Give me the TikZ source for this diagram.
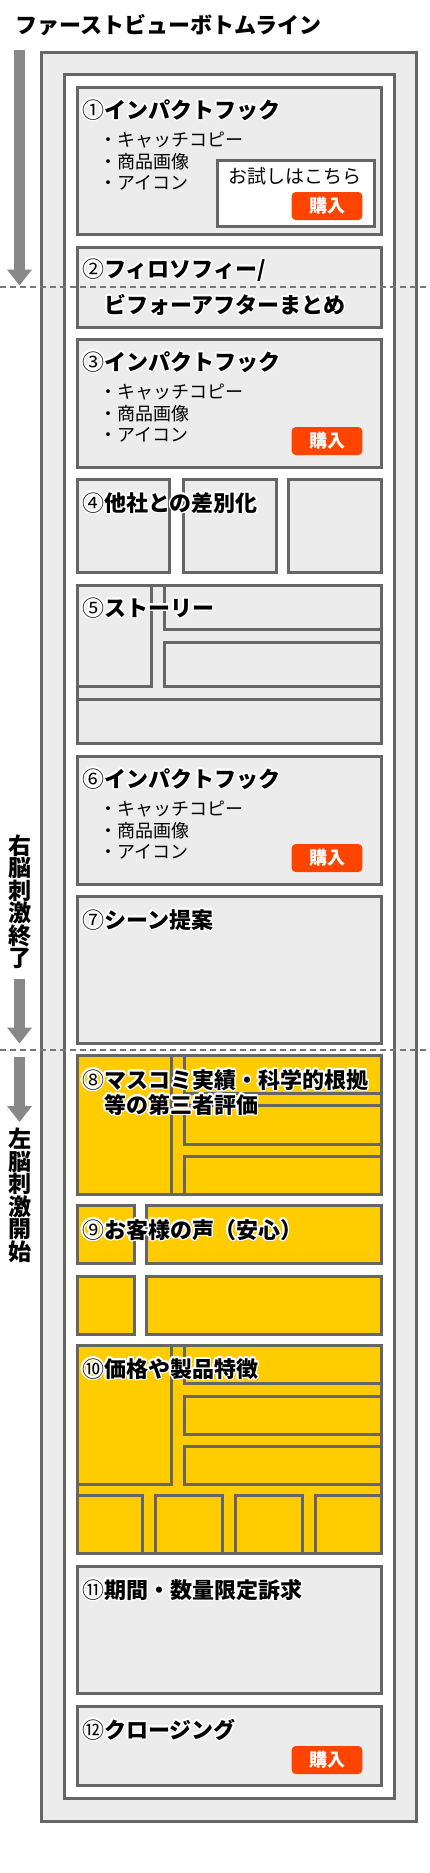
\documentclass[tikz,border=0pt]{standalone}
\usepackage{fontspec}
\setmainfont{Noto Sans CJK JP}
\newfontfamily\jpblack{Noto Sans CJK JP Black}
\usepackage{contour}
\contourlength{1.4pt}
\contournumber{20}
\usetikzlibrary{arrows.meta}
\definecolor{ln}{HTML}{666666}
\definecolor{gf}{HTML}{ECECEC}
\definecolor{yl}{HTML}{FFCC00}
\definecolor{btn}{HTML}{FF4400}
\definecolor{arr}{HTML}{888888}
\definecolor{dl}{HTML}{777777}
\tikzset{
  panel/.style={draw=ln, line width=3pt, fill=gf},
  ypanel/.style={draw=ln, line width=3pt, fill=yl},
  wpanel/.style={draw=ln, line width=3pt, fill=white},
  sub/.style={draw=ln, line width=3pt},
  head/.style={anchor=base west, inner sep=0pt, font=\fontsize{22}{26}\selectfont\jpblack},
  bul/.style={anchor=base west, inner sep=0pt, font=\fontsize{18}{21}\selectfont},
  buy/.style={fill=btn, rounded corners=4pt, text=white, inner sep=0pt,
    minimum width=70.6pt, minimum height=28pt, font=\fontsize{18}{20}\selectfont\bfseries},
  vtext/.style={inner sep=0pt, align=center, font=\fontsize{23}{22.5}\selectfont\jpblack},
  bigarrow/.style={draw=arr, line width=11pt, -{Triangle[width=24pt,length=16pt]}},
  dashline/.style={draw=dl, line width=2pt, dash pattern=on 6pt off 4pt},
}
\newcommand\hd[2]{\contour{white}{{\normalfont\fontsize{22}{26}\selectfont #1}#2}}
\begin{document}
\begin{tikzpicture}[x=1pt,y=-1pt]
\useasboundingbox (0,0) rectangle (430,1873);
% title
\node[head] (title) at (15,34) {ファーストビューボトムライン};
% frames
\draw[panel] (41.5,52.5) rectangle (416.7,1821);
\draw[wpanel] (64.3,75) rectangle (394.3,1798.3);
% 1
\draw[panel] (77,88) rectangle (381,234);
\draw[wpanel] (217,160) rectangle (374,226);
% 2
\draw[panel] (77,247.3) rectangle (381,327.3);
% 3
\draw[panel] (77,339.7) rectangle (381,467.3);
% 4
\draw[panel] (77,479.5) rectangle (169.7,572);
\draw[panel] (183,479.5) rectangle (276,572);
\draw[panel] (288.3,479.5) rectangle (381,572);
% 5
\draw[panel] (77,585.7) rectangle (381,743.3);
\draw[sub] (77,585.7) rectangle (151.7,686.7);
\draw[sub] (164,585.7) rectangle (381,629.3);
\draw[sub] (164,642.7) rectangle (381,686.7);
\draw[sub] (77,699) rectangle (381,743.3);
% 6
\draw[panel] (77,756.7) rectangle (381,884);
% 7
\draw[panel] (77,896) rectangle (381,1043.3);
% 8
\draw[ypanel] (77,1055.7) rectangle (381,1194);
\draw[sub] (77,1055.7) rectangle (171.7,1194);
\draw[sub] (184,1055.7) rectangle (381,1093.3);
\draw[sub] (184,1105.7) rectangle (381,1144);
\draw[sub] (184,1156.7) rectangle (381,1194);
% 9
\draw[ypanel] (77,1205.7) rectangle (134,1263.3);
\draw[ypanel] (146,1205.7) rectangle (381,1263.3);
\draw[ypanel] (77,1276) rectangle (134,1334);
\draw[ypanel] (146,1276) rectangle (381,1334);
% 10
\draw[ypanel] (77,1345.7) rectangle (381,1553.3);
\draw[sub] (77,1345.7) rectangle (171.7,1484);
\draw[sub] (184,1345.7) rectangle (381,1383.3);
\draw[sub] (184,1396) rectangle (381,1434);
\draw[sub] (184,1446) rectangle (381,1484);
\draw[sub] (77,1495.7) rectangle (142.7,1553.3);
\draw[sub] (155.3,1495.7) rectangle (222.7,1553.3);
\draw[sub] (235.3,1495.7) rectangle (302.7,1553.3);
\draw[sub] (315,1495.7) rectangle (381,1553.3);
% 11
\draw[panel] (77,1566) rectangle (381,1693.3);
% 12
\draw[panel] (77,1706.7) rectangle (381,1785.3);

% headings
\node[head] (h1) at (82,118) {\hd{①}{インパクトフック}};
\node[head] (h2a) at (82,277) {\hd{②}{フィロソフィー/}};
\node[head] (h2b) at (104,313) {\hd{}{ビフォーアフターまとめ}};
\node[head] (h3) at (82,370) {\hd{③}{インパクトフック}};
\node[head] (h4) at (82,511) {\hd{④}{他社との差別化}};
\node[head] (h5) at (82,616) {\hd{⑤}{ストーリー}};
\node[head] (h6) at (82,787) {\hd{⑥}{インパクトフック}};
\node[head] (h7) at (82,928) {\hd{⑦}{シーン提案}};
\node[head] (h8a) at (82,1088) {\hd{⑧}{マスコミ実績・科学的根拠}};
\node[head] (h8b) at (104,1113) {\hd{}{等の第三者評価}};
\node[head] (h9) at (82,1238) {\hd{⑨}{お客様の声（安心）}};
\node[head] (h10) at (82,1377) {\hd{⑩}{価格や製品特徴}};
\node[head] (h11) at (82,1598) {\hd{⑪}{期間・数量限定訴求}};
\node[head] (h12) at (82,1738) {\hd{⑫}{クロージング}};

% bullets
\node[bul] (b1a) at (99,146.5) {・キャッチコピー};
\node[bul] (b1b) at (99,168) {・商品画像};
\node[bul] (b1c) at (99,189.5) {・アイコン};
\node[bul] (b3a) at (99,398.5) {・キャッチコピー};
\node[bul] (b3b) at (99,420) {・商品画像};
\node[bul] (b3c) at (99,441.5) {・アイコン};
\node[bul] (b6a) at (99,815.5) {・キャッチコピー};
\node[bul] (b6b) at (99,837) {・商品画像};
\node[bul] (b6c) at (99,858.5) {・アイコン};
\node[anchor=base west, inner sep=0pt, font=\fontsize{19}{22}\selectfont] (trial) at (228,183) {お試しはこちら};

% buttons
\node[buy] (buy1) at (327,206) {購入};
\node[buy] (buy3) at (327,441) {購入};
\node[buy] (buy6) at (327,858) {購入};
\node[buy] (buy12) at (327,1760) {購入};

% side arrows and labels
\coordinate (a1s) at (19.5,50);
\coordinate (a1e) at (19.5,285.5);
\draw[bigarrow] (a1s) -- (a1e);
\node[vtext] (rtext) at (20,901.5) {右\\脳\\刺\\激\\終\\了};
\coordinate (a2s) at (19.5,979.3);
\coordinate (a2e) at (19.5,1043.5);
\draw[bigarrow] (a2s) -- (a2e);
\coordinate (a3s) at (19.5,1057.3);
\coordinate (a3e) at (19.5,1122);
\draw[bigarrow] (a3s) -- (a3e);
\node[vtext] (ltext) at (20,1195.5) {左\\脳\\刺\\激\\開\\始};

% dashed separators
\coordinate (d1a) at (0,287);
\coordinate (d1b) at (430,287);
\draw[dashline] (d1a) -- (d1b);
\coordinate (d2a) at (0,1050);
\coordinate (d2b) at (430,1050);
\draw[dashline] (d2a) -- (d2b);
\end{tikzpicture}
\end{document}
